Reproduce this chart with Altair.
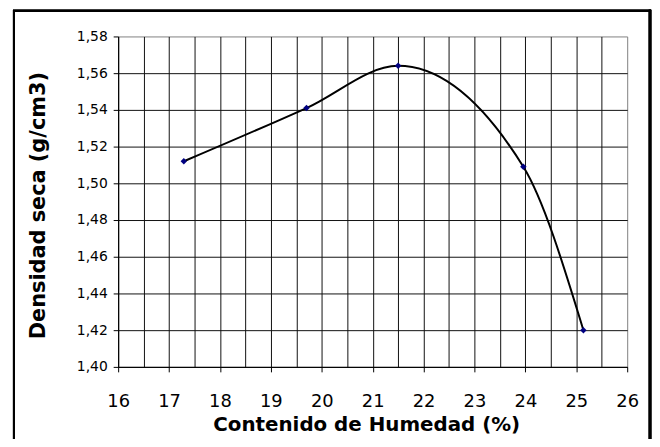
import altair as alt
import pandas as pd

humedad = [17.29, 19.70, 21.50, 23.96, 25.14]
densidad = [1.512, 1.541, 1.564, 1.509, 1.420]

x_values = [16 + 0.5 * i for i in range(21)]
y_values = [round(1.40 + 0.02 * i, 2) for i in range(10)]

df = pd.DataFrame({"h": humedad, "d": densidad})

FONT = "DejaVu Sans"

x_enc = alt.X(
    "h:Q",
    scale=alt.Scale(domain=[16, 26], nice=False, zero=False),
    axis=alt.Axis(
        values=x_values,
        grid=True,
        gridColor="#111111",
        gridWidth=1,
        gridOpacity=alt.condition("datum.value < 25.9", alt.value(1), alt.value(0)),
        domainColor="#000000",
        domainWidth=1,
        tickColor="#000000",
        tickSize=5,
        tickOpacity=alt.condition("datum.value % 1 === 0", alt.value(1), alt.value(0)),
        labelExpr="datum.value % 1 === 0 ? format(datum.value, 'd') : ''",
        labelFont=FONT,
        labelFontSize=18,
        labelColor="#000000",
        labelPadding=21,
        labelFlush=False,
        labelOverlap=False,
        title="Contenido de Humedad (%)",
        titleFont=FONT,
        titleFontSize=20,
        titleFontWeight="bold",
        titleColor="#000000",
        titleBaseline="alphabetic",
        titleY=64,
        titleX=250,
    ),
)

y_enc = alt.Y(
    "d:Q",
    scale=alt.Scale(domain=[1.40, 1.58], nice=False, zero=False),
    axis=alt.Axis(
        values=y_values,
        grid=True,
        gridColor="#111111",
        gridWidth=1,
        gridOpacity=alt.condition("datum.value < 1.579", alt.value(1), alt.value(0)),
        domainColor="#000000",
        domainWidth=1,
        tickColor="#000000",
        tickSize=5,
        labelExpr="replace(format(datum.value, '.2f'), '.', ',')",
        labelFont=FONT,
        labelFontSize=14,
        labelColor="#000000",
        labelPadding=6,
        labelFlush=False,
        labelOverlap=False,
        title="Densidad seca (g/cm3)",
        titleFont=FONT,
        titleFontSize=21,
        titleFontWeight="bold",
        titleColor="#000000",
        titleBaseline="alphabetic",
        titleX=-74,
        titleY=170,
        titleAlign="center",
    ),
)

base = alt.Chart(df).encode(x=x_enc, y=y_enc)

line = base.mark_line(
    color="#000000", strokeWidth=2, interpolate="monotone", clip=True
)

points = base.mark_point(
    shape="diamond", filled=True, color="#000080", size=42, opacity=1
)

frame_left = alt.Chart(df).mark_rule(color="#000000", strokeWidth=2).encode(
    x=alt.value(-105), y=alt.value(-26), y2=alt.value(420)
)
frame_top = alt.Chart(df).mark_rule(color="#000000", strokeWidth=2).encode(
    x=alt.value(-106), x2=alt.value(537), y=alt.value(-26)
)
frame_right = alt.Chart(df).mark_rule(color="#000000", strokeWidth=2.5).encode(
    x=alt.value(536), y=alt.value(-27), y2=alt.value(420)
)

chart = (
    alt.layer(line, points, frame_left, frame_top, frame_right)
    .properties(
        width=513,
        height=333,
        autosize=alt.AutoSizeParams(type="none"),
        padding={"left": 111, "top": 27, "right": 25, "bottom": 71},
        background="#ffffff",
    )
    .configure_view(stroke="#808080", strokeWidth=1)
)

chart.save("out.html", embed_options={"renderer": "svg", "actions": False})
